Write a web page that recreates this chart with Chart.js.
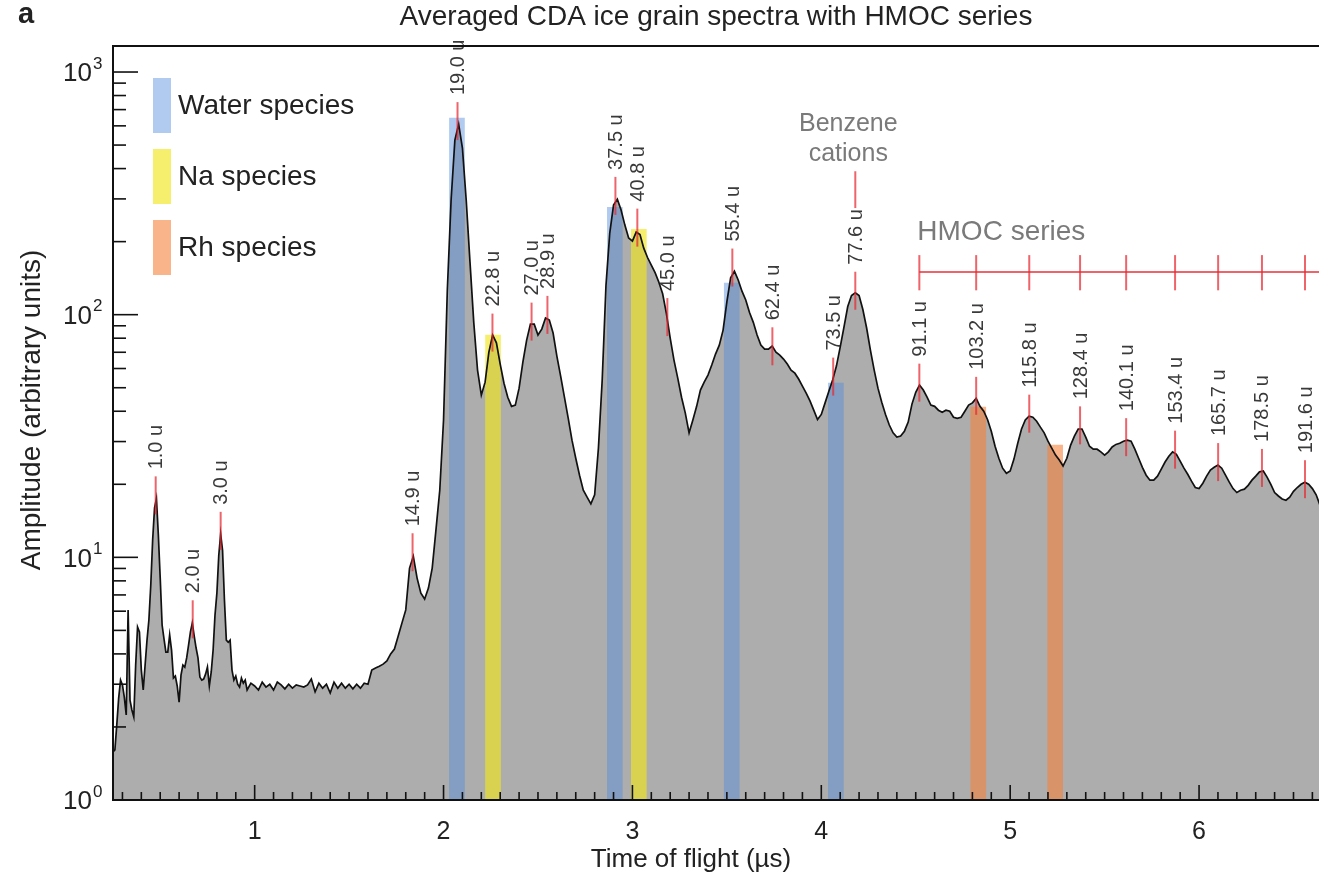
<!DOCTYPE html>
<html>
<head>
<meta charset="utf-8">
<script src="https://cdn.jsdelivr.net/npm/chart.js@4.4.1/dist/chart.umd.min.js"></script>
<style>
  html, body { margin: 0; padding: 0; background: #fff; }
  #wrap { width: 1319px; height: 878px; position: relative; }
</style>
</head>
<body>
<div id="wrap"><canvas id="c"></canvas></div>
<script>
// Averaged CDA ice grain spectrum, log amplitude vs time of flight.
// Gray area = spectrum, coloured strips = species bands, red ticks = peak labels.

const FONT = '"Liberation Sans", Arial, sans-serif';

const timeUs = [
  0.25,0.26,0.27,0.28,0.29,0.30,0.31,0.32,0.33,0.34,0.35,0.36,0.37,0.38,0.39,0.40,0.41,0.42,0.43,0.44,
  0.45,0.46,0.47,0.48,0.49,0.50,0.51,0.52,0.53,0.54,0.55,0.56,0.57,0.58,0.59,0.60,0.61,0.62,0.63,0.64,
  0.65,0.66,0.67,0.68,0.69,0.70,0.71,0.72,0.73,0.74,0.75,0.76,0.77,0.78,0.79,0.80,0.81,0.82,0.83,0.84,
  0.85,0.86,0.87,0.88,0.89,0.90,0.91,0.92,0.93,0.94,0.95,
  0.96,0.98,1.00,1.02,1.04,1.06,1.08,1.10,1.12,1.14, 1.16,1.18,1.20,1.22,1.24,1.26,1.28,1.30,1.32,1.34,
  1.36,1.38,1.40,1.42,1.44,1.46,1.48,1.50,1.52,1.54, 1.56,1.58,1.60,1.62,1.64,1.66,1.68,1.70,1.72,1.74,
  1.76,1.78,1.80,1.82,1.84,1.86,1.88,1.90,1.92,1.94, 1.96,1.98,2.00,2.02,2.04,2.06,2.08,2.10,2.12,2.14,
  2.16,2.18,2.20,2.22,2.24,2.26,2.28,2.30,2.32,2.34, 2.36,2.38,2.40,2.42,2.44,2.46,2.48,2.50,2.52,2.54,
  2.56,2.58,2.60,2.62,2.64,2.66,2.68,2.70,2.72,2.74, 2.76,2.78,2.80,2.82,2.84,2.86,2.88,2.90,2.92,2.94,
  2.96,2.98,3.00,3.02,3.04,3.06,3.08,3.10,3.12,3.14, 3.16,3.18,3.20,3.22,3.24,3.26,3.28,3.30,3.32,3.34,
  3.36,3.38,3.40,3.42,3.44,3.46,3.48,3.50,3.52,3.54, 3.56,3.58,3.60,3.62,3.64,3.66,3.68,3.70,3.72,3.74,
  3.76,3.78,3.80,3.82,3.84,3.86,3.88,3.90,3.92,3.94, 3.96,3.98,4.00,4.02,4.04,4.06,4.08,4.10,4.12,4.14,
  4.16,4.18,4.20,4.22,4.24,4.26,4.28,4.30,4.32,4.34, 4.36,4.38,4.40,4.42,4.44,4.46,4.48,4.50,4.52,4.54,
  4.56,4.58,4.60,4.62,4.64,4.66,4.68,4.70,4.72,4.74, 4.76,4.78,4.80,4.82,4.84,4.86,4.88,4.90,4.92,4.94,
  4.96,4.98,5.00,5.02,5.04,5.06,5.08,5.10,5.12,5.14, 5.16,5.18,5.20,5.22,5.24,5.26,5.28,5.30,5.32,5.34,
  5.36,5.38,5.40,5.42,5.44,5.46,5.48,5.50,5.52,5.54, 5.56,5.58,5.60,5.62,5.64,5.66,5.68,5.70,5.72,5.74,
  5.76,5.78,5.80,5.82,5.84,5.86,5.88,5.90,5.92,5.94, 5.96,5.98,6.00,6.02,6.04,6.06,6.08,6.10,6.12,6.14,
  6.16,6.18,6.20,6.22,6.24,6.26,6.28,6.30,6.32,6.34, 6.36,6.38,6.40,6.42,6.44,6.46,6.48,6.50,6.52,6.54,
  6.56,6.58,6.60,6.62,6.64
];

const amplitude = [
  1.58,1.61,2.04,2.63,3.12,2.98,2.65,2.24,6.07,2.58,2.35,2.20,3.60,5.16,4.93,3.43,2.84,3.60,4.56,5.52,
  7.69,11.8,16.0,17.5,12.4,8.21,5.26,4.61,4.07,4.07,4.79,4.15,3.18,3.24,2.95,2.53,3.27,3.60,3.53,3.85,
  4.35,4.93,5.37,4.74,4.23,3.85,3.21,3.12,3.15,3.30,3.53,2.95,3.37,4.15,5.78,7.12,10.2,12.5,10.7,6.67,
  4.56,4.47,4.56,3.43,3.12,3.24,3.00,2.92,3.18,3.03,3.12,
  2.84,3.03,2.95,2.84,3.06,2.92,3.00,2.84,3.06,2.98, 2.87,3.00,2.89,2.98,2.95,2.92,2.98,3.15,2.79,3.03,
  2.89,3.00,2.76,3.06,2.89,3.03,2.89,3.00,2.87,3.00, 2.89,3.03,3.00,3.43,3.50,3.56,3.63,3.74,4.00,4.19,
  4.74,5.37,6.07,9.03,10.1,8.21,7.12,6.73,7.47,9.03, 13.0,18.9,36.8,126,297,524,610,486,297,165,
  93.0,59.1,46.6,52.7,70.1,82.4,76.6,62.6,52.2,45.7, 41.9,42.4,49.8,63.7,78.6,91.4,91.4,82.4,87.2,96.9,
  95.0,84.0,67.5,55.8,45.7,37.5,30.4,25.6,21.8,18.9, 17.7,16.6,18.1,28.2,53.8,132,217,283,299,270,
  234,207,201,219,214,188,172,160,149,136, 122,101,80.1,65.0,54.8,45.7,39.3,32.6,36.8,41.9,
  48.9,52.7,56.4,62.0,68.8,74.9,86.4,113,142,151, 139,125,115,102,93.0,82.4,74.9,72.1,72.1,74.2,
  70.1,68.1,65.6,62.6,59.1,57.4,54.3,50.8,47.5,44.1, 40.4,37.0,38.8,43.3,48.4,53.8,61.4,73.5,88.9,108,
  120,123,120,105,88.1,71.5,59.1,49.8,43.6,38.8, 35.1,32.6,31.3,31.6,33.1,36.1,42.8,47.9,51.3,48.9,
  45.7,42.4,41.9,40.4,39.6,40.4,40.0,37.8,37.4,37.8, 40.0,42.4,43.3,45.2,41.9,40.0,37.0,33.1,28.7,25.6,
  23.3,22.2,22.7,25.4,29.5,33.8,36.8,38.2,37.8,36.4, 34.4,32.6,30.1,28.2,26.4,25.2,23.8,25.6,29.0,31.6,
  33.8,33.8,31.3,28.7,27.9,27.9,27.2,26.4,27.2,28.5, 29.2,29.5,30.1,30.4,30.1,27.9,25.6,23.5,21.8,20.8,
  20.8,21.6,23.1,24.7,26.1,27.2,26.6,24.9,23.3,22.0, 20.6,19.4,19.2,20.2,21.6,22.9,23.5,24.0,23.3,21.8,
  20.4,19.2,18.5,18.9,19.1,19.8,20.8,21.6,22.5,22.7, 21.4,20.0,18.5,17.9,17.4,17.2,17.7,18.7,19.4,20.0,
  20.4,20.0,19.2,18.1,16.4
];

// species bands (centre time, top amplitude, kind)
const bandTime = [2.071, 2.262, 2.907, 3.034, 3.526, 4.077, 4.831, 5.238];
const bandTop  = [646, 82.4, 277, 225, 135, 52.2, 41.6, 29.0];
const bandKind = ['water', 'na', 'water', 'na', 'water', 'water', 'rh', 'rh'];

const legendNames = ['Water species', 'Na species', 'Rh species'];
const legendKinds = ['water', 'na', 'rh'];

// labelled peaks
const peakLabels = ['1.0 u','2.0 u','3.0 u','14.9 u','19.0 u','22.8 u','27.0 u','28.9 u','37.5 u','40.8 u',
  '45.0 u','55.4 u','62.4 u','73.5 u','77.6 u','91.1 u','103.2 u','115.8 u','128.4 u','140.1 u',
  '153.4 u','165.7 u','178.5 u','191.6 u'];
const peakTime = [0.476, 0.672, 0.820, 1.836, 2.074, 2.259, 2.466, 2.550, 2.910, 3.026,
  3.185, 3.529, 3.741, 4.063, 4.180, 4.519, 4.820, 5.101, 5.370, 5.614,
  5.873, 6.101, 6.333, 6.561];
const peakAmp = [17.5, 5.4, 12.5, 10.2, 610, 82, 91, 97, 300, 222,
  95, 152, 72, 54, 122, 51, 45, 38, 34, 30.4,
  27, 24, 22.7, 20.4];

// HMOC series bracket and benzene pointer
const hmocTime = [4.519, 4.820, 5.101, 5.370, 5.614, 5.873, 6.101, 6.333, 6.561];
const hmocLevel = 150;
const hmocTickRange = [126, 176];
const benzeneTime = 4.18;
const benzeneRange = [275, 390];

const xTickValues = [1, 2, 3, 4, 5, 6];
const yTickValues = [1, 10, 100, 1000];
const yTickExp = ['0', '1', '2', '3'];

const RED = 'rgba(232,40,50,0.72)';
const BAND_FILL = {
  water: 'rgba(80,140,220,0.45)',
  na: 'rgba(240,230,30,0.65)',
  rh: 'rgba(245,130,60,0.6)',
};

const spectrum = timeUs.map((t, i) => ({ x: t, y: amplitude[i] }));
const bands = bandTime.map((t, i) => ({ x: t, y: [1, bandTop[i]] }));

const decorations = {
  id: 'decorations',
  afterDraw(chart) {
    const { ctx, chartArea: ca } = chart;
    const xs = chart.scales.x, ys = chart.scales.y;
    ctx.save();

    // peak markers + rotated labels
    ctx.lineWidth = 2;
    ctx.strokeStyle = RED;
    peakTime.forEach((t, i) => {
      const x = xs.getPixelForValue(t), y = ys.getPixelForValue(peakAmp[i]);
      ctx.beginPath(); ctx.moveTo(x, y - 22); ctx.lineTo(x, y + 16); ctx.stroke();
      ctx.save();
      ctx.translate(x, y - 29);
      ctx.rotate(-Math.PI / 2);
      ctx.fillStyle = '#3a3a3a';
      ctx.font = `20px ${FONT}`;
      ctx.textAlign = 'left'; ctx.textBaseline = 'middle';
      ctx.fillText(peakLabels[i], 0, 1);
      ctx.restore();
    });

    // benzene pointer
    const bx = xs.getPixelForValue(benzeneTime);
    const bTop = ys.getPixelForValue(benzeneRange[1]);
    ctx.beginPath(); ctx.moveTo(bx, bTop); ctx.lineTo(bx, ys.getPixelForValue(benzeneRange[0])); ctx.stroke();
    ctx.fillStyle = '#7a7a7a';
    ctx.font = `25px ${FONT}`;
    ctx.textAlign = 'center'; ctx.textBaseline = 'middle';
    ctx.fillText('Benzene', bx - 7, bTop - 47);
    ctx.fillText('cations', bx - 7, bTop - 17);

    // HMOC bracket
    const hy = ys.getPixelForValue(hmocLevel);
    const hx0 = xs.getPixelForValue(hmocTime[0]);
    ctx.beginPath(); ctx.moveTo(hx0, hy); ctx.lineTo(ca.right, hy); ctx.stroke();
    hmocTime.forEach(t => {
      const x = xs.getPixelForValue(t);
      ctx.beginPath();
      ctx.moveTo(x, ys.getPixelForValue(hmocTickRange[1]));
      ctx.lineTo(x, ys.getPixelForValue(hmocTickRange[0]));
      ctx.stroke();
    });
    ctx.font = `28px ${FONT}`;
    ctx.textAlign = 'left';
    ctx.fillText('HMOC series', hx0 - 2, hy - 40);

    // axes frame
    ctx.strokeStyle = '#111';
    ctx.lineWidth = 2;
    ctx.beginPath();
    ctx.moveTo(ca.right, ca.top); ctx.lineTo(ca.left, ca.top);
    ctx.lineTo(ca.left, ca.bottom); ctx.lineTo(ca.right, ca.bottom);
    ctx.stroke();

    // x ticks (inward)
    ctx.lineWidth = 1.6;
    for (let k = 3; k <= 66; k++) {
      const x = xs.getPixelForValue(k / 10);
      const len = k % 10 === 0 ? 15 : 8;
      ctx.beginPath(); ctx.moveTo(x, ca.bottom); ctx.lineTo(x, ca.bottom - len); ctx.stroke();
    }
    // y ticks (inward)
    for (let d = 0; d < 4; d++) {
      for (let m = 1; m <= 9; m++) {
        const v = m * Math.pow(10, d);
        if (v > ys.max) break;
        const y = ys.getPixelForValue(v);
        const len = m === 1 ? 25 : 13;
        ctx.beginPath(); ctx.moveTo(ca.left, y); ctx.lineTo(ca.left + len, y); ctx.stroke();
      }
    }

    // tick labels
    ctx.fillStyle = '#222';
    ctx.font = `25px ${FONT}`;
    ctx.textAlign = 'center'; ctx.textBaseline = 'middle';
    xTickValues.forEach(v => ctx.fillText(String(v), xs.getPixelForValue(v), 832));
    yTickValues.forEach((v, i) => {
      const y = ys.getPixelForValue(v);
      ctx.font = `26px ${FONT}`;
      ctx.textAlign = 'right';
      ctx.fillText('10', 92, y + 2);
      ctx.font = `17px ${FONT}`;
      ctx.textAlign = 'left';
      ctx.fillText(yTickExp[i], 93, y - 8);
    });

    // axis titles
    ctx.font = `26px ${FONT}`;
    ctx.textAlign = 'center';
    ctx.fillText('Time of flight (\u00b5s)', 691, 860);
    ctx.save();
    ctx.translate(32, 410);
    ctx.rotate(-Math.PI / 2);
    ctx.font = `28px ${FONT}`;
    ctx.fillText('Amplitude (arbitrary units)', 0, 0);
    ctx.restore();

    // title and panel letter
    ctx.font = `28px ${FONT}`;
    ctx.fillText('Averaged CDA ice grain spectra with HMOC series', 716, 17);
    ctx.font = `bold 29px ${FONT}`;
    ctx.textAlign = 'left';
    ctx.fillText('a', 18, 15);

    // legend
    legendNames.forEach((name, i) => {
      const top = 78 + i * 71;
      ctx.fillStyle = BAND_FILL[legendKinds[i]];
      ctx.fillRect(153, top, 18, 55);
      ctx.fillStyle = '#222';
      ctx.font = `28px ${FONT}`;
      ctx.textAlign = 'left';
      ctx.fillText(name, 178, top + 28);
    });

    ctx.restore();
  }
};

new Chart(document.getElementById('c'), {
  type: 'line',
  data: {
    datasets: [
      { label: 'area', data: spectrum, borderColor: 'rgba(0,0,0,0)', borderWidth: 0, pointRadius: 0,
        fill: 'start', backgroundColor: '#adadad', order: 3 },
      { type: 'bar', label: 'bands', data: bands, backgroundColor: bandKind.map(k => BAND_FILL[k]),
        borderWidth: 0, barThickness: 15, grouped: false, order: 2 },
      { label: 'spectrum', data: spectrum, borderColor: '#111', borderWidth: 1.7, pointRadius: 0,
        fill: false, tension: 0, order: 1 },
    ]
  },
  options: {
    responsive: true, maintainAspectRatio: false, animation: false, devicePixelRatio: 1,
    layout: { padding: { top: 46, left: 0, right: 0, bottom: 0 } },
    plugins: { legend: { display: false }, tooltip: { enabled: false }, title: { display: false } },
    scales: {
      x: {
        type: 'linear', min: 0.25, max: 6.635, offset: false,
        grid: { display: false, drawTicks: false }, border: { display: false },
        ticks: { display: false },
        afterFit: s => { s.height = 78; },
      },
      y: {
        type: 'logarithmic', min: 1, max: 1280,
        grid: { display: false, drawTicks: false }, border: { display: false },
        ticks: { display: false },
        afterFit: s => { s.width = 113; },
      },
    },
  },
  plugins: [decorations],
});
</script>
</body>
</html>
